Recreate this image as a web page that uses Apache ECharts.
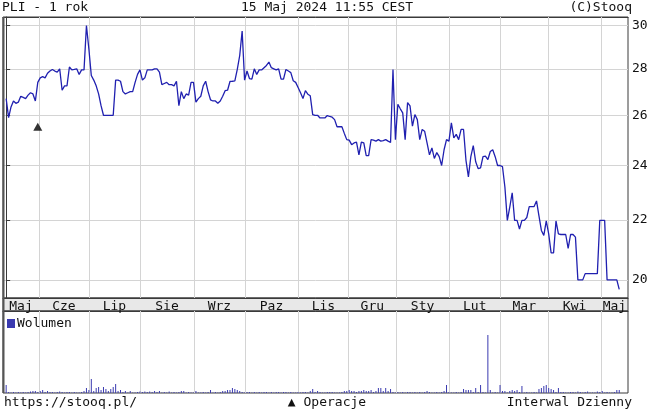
<!DOCTYPE html>
<html><head><meta charset="utf-8">
<script src="https://cdn.jsdelivr.net/npm/echarts@6/dist/echarts.min.js"></script>
<style>html,body{margin:0;padding:0;background:#fff}#c{width:654px;height:412px}</style>
</head><body><div id="c"></div>
<script>
// Daily closes (trading-day index 0..252)
const closes = [
26.7,25.9,26.35,26.6,26.5,26.55,26.8,26.75,26.7,26.85,
26.95,26.9,26.6,27.4,27.6,27.65,27.6,27.8,27.9,27.97,
27.9,27.85,28.0,27.06,27.25,27.25,28.08,27.95,27.97,28.0,
27.75,27.95,27.95,30.0,28.9,27.7,27.5,27.25,26.9,26.4,
26.0,26.0,26.0,26.0,26.0,27.5,27.5,27.45,27.0,26.9,
26.95,27.0,27.0,27.4,27.75,27.95,27.5,27.6,27.95,27.95,
27.95,28.0,28.0,27.85,27.3,27.35,27.4,27.3,27.3,27.25,
27.45,26.4,27.0,26.7,26.9,26.85,27.4,27.4,26.55,26.7,
26.8,27.25,27.45,27.0,26.65,26.6,26.6,26.5,26.6,26.8,
27.04,27.06,27.44,27.45,27.47,27.97,28.6,29.74,27.5,27.9,
27.57,27.54,28.0,27.75,27.95,27.95,28.05,28.15,28.3,28.05,
28.0,27.95,28.0,27.54,27.54,27.97,27.9,27.83,27.47,27.4,
27.18,26.95,26.7,27.04,26.89,26.82,26.03,26.0,26.0,25.89,
25.89,25.89,25.99,25.95,25.92,25.82,25.53,25.53,25.53,25.26,
25.01,24.99,24.81,24.88,24.91,24.41,24.91,24.88,24.38,24.38,
25.01,24.99,24.95,25.01,24.95,24.97,25.01,24.95,24.9,27.97,
25.01,26.46,26.27,26.1,25.01,26.53,26.39,25.55,26.03,25.82,
25.01,25.42,25.35,24.88,24.41,24.68,24.27,24.5,24.34,24.0,
24.61,25.01,24.95,25.69,25.08,25.22,25.01,25.42,25.42,24.2,
23.57,24.34,24.77,24.14,23.88,23.91,24.34,24.36,24.23,24.54,
24.61,24.34,24.0,24.0,23.96,23.19,21.99,22.46,22.98,21.99,
21.99,21.69,21.99,21.99,22.09,22.48,22.48,22.48,22.68,22.15,
21.64,21.47,21.97,21.52,20.88,20.88,21.97,21.52,21.5,21.5,
21.5,21.03,21.5,21.5,21.41,20.0,20.0,20.0,20.2,20.2,
20.2,20.2,20.2,20.2,21.99,21.99,21.99,20.0,20.0,20.0,
20.0,20.0,19.7
];
// Daily volume (relative units)
const volumes = [
8,1,0.5,1,0.5,1,0.5,1,0.5,1,
1.5,2,2,1,2,3,1,2,1,1,
0.5,1,1.5,1,0.5,1,1,0.5,1,0.5,
0.5,1,2,5,3,14,2,5,6,3,
6,4,2,4,6,9,2,3,1,2,
0.5,2,0.5,0.5,1,1.5,1,1.5,1,1.5,
1,2,1,2,0.5,1,0.5,1.5,0.5,1,
0.5,1,2,2,0.5,1,0.5,0.5,2,0.5,
0.5,1,0.5,1,3,0.5,1,0.5,1,2,
2,3,3,5,4,3,2,1,0.5,1,
1,0.5,1,0.5,1,0.5,1,1,0.5,1,
0.5,1,1,0.5,1,1,0.5,1,0.5,0.5,
1,0.5,1,1,0.5,2,4,1,2,1,
0.5,0.5,1,1,1,0.5,0.5,0.5,1,2,
2,3,2,2,1,2,2,3,2,2,
3,1,2,5,5,2,5,2,4,1,
0.5,1,0.5,1,0.5,1,1,0.5,1,0.5,
1,0.5,1,2,1,0.5,0.5,1,0.5,1,
2,8,1,0.5,0.5,1,0.5,1,4,3,
3,3,1,5,1,8,1,0.5,58,3,
0.5,1,0.5,8,2,2,0.5,2,3,2,
3,1,7,0.5,1,0.5,0.5,1,0.5,4,
5,7,8,5,4,3,1,5,1,1,
0.5,0.5,1,1,0.5,1.5,1,0.5,1,1.5,
0.5,0.5,0.5,1.5,1,2,0.5,1,0.5,0.5,
1,3,3
];
const monthLabels = ['Maj','Cze','Lip','Sie','Wrz','Paz','Lis','Gru','Sty','Lut','Mar','Kwi','Maj'];
const monthLabelPos = [6.1,23.75,44.5,66.1,87.65,109.05,130.4,150.5,171.15,192.6,212.95,233.65,250.0];
const monthBounds = [13.5,34.0,55.0,77.2,98.1,120.0,140.8,160.2,182.1,203.1,222.8,244.5];
const priceTicks = [20,22,24,26,28,30];
const operations = [[13, 25.53]];

const FONT = 'DejaVu Sans Mono';
const XMIN = -1.3, XMAX = 255.6;
const txt = {fontFamily: FONT, fontSize: 13, color: '#111', fontWeight: 'normal'};
const axisDark = '#3a3a3a';
const gridGray = '#d4d4d4';

function monthGridLines() {
  return {
    silent: true, symbol: 'none', z: 1, animation: false,
    label: {show: false}, emphasis: {disabled: true},
    lineStyle: {color: gridGray, width: 1, type: 'solid'},
    data: monthBounds.map(b => ({xAxis: b}))
  };
}

const chart = echarts.init(document.getElementById('c'), null, {renderer: 'canvas'});
const option = {
  animation: false,
  backgroundColor: '#fff',
  title: [
    {text: 'PLI - 1 rok', left: 2, top: 1, padding: 0, textStyle: txt},
    {text: '15 Maj 2024 11:55 CEST', left: 'center', top: 1, padding: 0, textStyle: txt},
    {text: '(C)Stooq', right: 22, top: 1, padding: 0, textStyle: txt},
    {text: 'https://stooq.pl/', left: 4, top: 396, padding: 0, textStyle: txt},
    {text: '\u25B2 Operacje', left: 'center', top: 396, padding: 0, textStyle: txt},
    {text: 'Interwal Dzienny', right: 22, top: 396, padding: 0, textStyle: txt}
  ],
  legend: {
    data: ['Wolumen'], left: 7, top: 317, icon: 'rect', itemWidth: 8, itemHeight: 9,
    padding: 0, itemGap: 4, textStyle: Object.assign({}, txt, {padding: [0, 0, 0, -3]})
  },
  grid: [
    {left: 3, right: 26, top: 17, height: 281, show: true, borderColor: axisDark, borderWidth: 1, backgroundColor: 'transparent'},
    {left: 3, right: 26, top: 311, height: 82, show: true, borderColor: axisDark, borderWidth: 1, backgroundColor: 'transparent'}
  ],
  graphic: [{
    type: 'rect', z: -1, shape: {x: 3, y: 298, width: 625, height: 13},
    style: {fill: '#e8e8e8', stroke: axisDark, lineWidth: 1}
  }, {
    type: 'line', z: 10, shape: {x1: 3.5, y1: 17, x2: 3.5, y2: 393},
    style: {stroke: '#555', lineWidth: 2}
  }],
  xAxis: [
    {type: 'value', gridIndex: 0, min: XMIN, max: XMAX, position: 'bottom',
     axisLine: {show: true, onZero: false, lineStyle: {color: axisDark}},
     axisTick: {show: true, inside: true, length: 4, customValues: monthBounds, lineStyle: {color: axisDark}},
     axisLabel: {show: true, customValues: monthLabelPos, margin: 2,
       formatter: function (v) {
         for (let k = 0; k < monthLabelPos.length; k++) if (Math.abs(monthLabelPos[k] - v) < 0.01) return monthLabels[k];
         return '';
       },
       fontFamily: FONT, fontSize: 13, color: '#111'},
     splitLine: {show: false}},
    {type: 'value', gridIndex: 0, min: XMIN, max: XMAX, position: 'top',
     axisLine: {show: true, onZero: false, lineStyle: {color: axisDark}},
     axisTick: {show: true, inside: true, length: 4, customValues: monthBounds, lineStyle: {color: axisDark}},
     axisLabel: {show: false}, splitLine: {show: false}},
    {type: 'value', gridIndex: 1, min: XMIN, max: XMAX, position: 'top',
     axisLine: {show: true, onZero: false, lineStyle: {color: axisDark}},
     axisTick: {show: true, inside: true, length: 4, customValues: monthBounds, lineStyle: {color: axisDark}},
     axisLabel: {show: false},
     splitLine: {show: false}}
  ],
  yAxis: [
    {type: 'log', gridIndex: 0, min: 19.43, max: 30.41, position: 'right',
     axisLine: {show: true, lineStyle: {color: axisDark}},
     axisTick: {show: true, length: 4, customValues: priceTicks, lineStyle: {color: axisDark}},
     axisLabel: {show: true, customValues: priceTicks, margin: 4, fontFamily: FONT, fontSize: 13, color: '#111'},
     splitLine: {show: true, lineStyle: {color: gridGray, width: 1}},
     minorTick: {show: false}, minorSplitLine: {show: false}},
    {type: 'value', gridIndex: 1, min: 0, max: 82, show: false, splitLine: {show: false}}
  ],
  series: [
    {type: 'line', name: 'PLI', xAxisIndex: 0, yAxisIndex: 0, z: 3,
     data: closes.map((v, i) => [i, v]), showSymbol: false, symbol: 'none',
     lineStyle: {color: '#2020b0', width: 1.3},
     markLine: monthGridLines()},
    {type: 'scatter', name: 'Operacje', xAxisIndex: 0, yAxisIndex: 0, z: 4,
     data: operations, symbol: 'triangle', symbolSize: [9, 8], itemStyle: {color: '#000'}},
    {type: 'bar', name: 'Wolumen', xAxisIndex: 2, yAxisIndex: 1,
     data: volumes.map((v, i) => [i, v]), barWidth: 1, itemStyle: {color: '#3a3ab0'},
     markLine: monthGridLines()}
  ]
};
chart.setOption(option);
</script>
</body></html>
